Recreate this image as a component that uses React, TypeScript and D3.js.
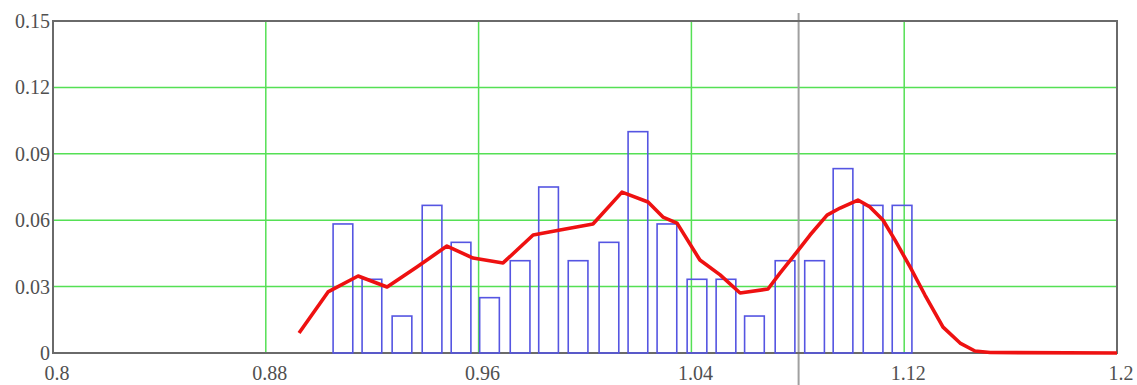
import React from 'react';
import * as d3 from 'd3';

// histogram bins (centre of each bar) and relative frequencies
const binCentres = [
  0.909, 0.9199, 0.9312, 0.9425, 0.9534, 0.9641, 0.9756, 0.9863, 0.9974, 1.009,
  1.0199, 1.0308, 1.0421, 1.053, 1.0637, 1.0752, 1.0863, 1.097, 1.1083, 1.1192,
];
const binFreq = [
  0.0583, 0.0333, 0.0167, 0.0667, 0.05, 0.025, 0.0417, 0.075, 0.0417, 0.05,
  0.1, 0.0583, 0.0333, 0.0333, 0.0167, 0.0417, 0.0417, 0.0833, 0.0667, 0.0667,
];

// density curve
const curveX = [
  0.8925, 0.9034, 0.9147, 0.9256, 0.9368, 0.9481, 0.9579, 0.9692, 0.9805, 0.9906,
  1.003, 1.0139, 1.0237, 1.0293, 1.0346, 1.0432, 1.0508, 1.0583, 1.0688, 1.0733,
  1.0782, 1.0846, 1.091, 1.0959, 1.1026, 1.1071, 1.112, 1.1165, 1.1222, 1.1278,
  1.1346, 1.141, 1.1466, 1.1523, 1.2,
];
const curveY = [
  0.009, 0.0276, 0.0348, 0.0298, 0.0389, 0.0483, 0.0429, 0.0407, 0.0533, 0.0556,
  0.0583, 0.0727, 0.0682, 0.0614, 0.0587, 0.042, 0.0353, 0.0271, 0.0289, 0.0361,
  0.0434, 0.0533, 0.0623, 0.0655, 0.0691, 0.066, 0.0601, 0.0511, 0.0389, 0.0262,
  0.0117, 0.0045, 0.0009, 0.0002, 0,
];

const xTicks = [0.8, 0.88, 0.96, 1.04, 1.12, 1.2];
const yTicks = [0, 0.03, 0.06, 0.09, 0.12, 0.15];
const markerX = 1.0803;
const barWidth = 0.0074;

const W = 1137;
const H = 385;
const margin = { top: 21, right: 20, bottom: 32, left: 53 };

export default function App() {
  const x = d3.scaleLinear().domain([0.8, 1.2]).range([margin.left, W - margin.right]);
  const y = d3.scaleLinear().domain([0, 0.15]).range([H - margin.bottom, margin.top]);

  const line = d3.line<number>()
    .x((d, i) => x(curveX[i]))
    .y(d => y(d));

  const fmtY = (v: number) => (v === 0 ? '0' : d3.format('.2f')(v));
  const fmtX = (v: number) => String(+v.toFixed(2));

  const [x0, x1] = x.range();
  const [y0, y1] = y.range();
  const font = '"Liberation Serif", "Times New Roman", serif';

  return (
    <svg width={W} height={H} style={{ position: 'absolute', left: 0, top: 0, background: '#fff' }}>
      {/* green grid */}
      <g stroke="#55e055" strokeWidth={1.5}>
        {xTicks.slice(1, -1).map(t => (
          <line key={'gx' + t} x1={x(t)} x2={x(t)} y1={y1} y2={y0} />
        ))}
        {yTicks.slice(1, -1).map(t => (
          <line key={'gy' + t} x1={x0} x2={x1} y1={y(t)} y2={y(t)} />
        ))}
      </g>

      {/* marker line */}
      <line x1={x(markerX)} x2={x(markerX)} y1={13} y2={H} stroke="#a0a0a0" strokeWidth={2} />

      {/* frame */}
      <rect x={x0} y={y1} width={x1 - x0} height={y0 - y1} fill="none" stroke="#6a6a6a" strokeWidth={2} />

      {/* bars */}
      <g fill="none" stroke="#5555e2" strokeWidth={1.6}>
        {binCentres.map((c, i) => (
          <rect
            key={i}
            x={x(c - barWidth / 2)}
            y={y(binFreq[i])}
            width={x(c + barWidth / 2) - x(c - barWidth / 2)}
            height={y(0) - y(binFreq[i])}
          />
        ))}
      </g>

      {/* density curve */}
      <path d={line(curveY) || ''} fill="none" stroke="#ee1111" strokeWidth={3.6} strokeLinejoin="round" />

      {/* y labels */}
      <g fontFamily={font} fontSize={20} fill="#505050" textAnchor="end">
        {yTicks.map(t => (
          <text key={'ly' + t} x={x0 - 3} y={y(t) + 7}>{fmtY(t)}</text>
        ))}
      </g>

      {/* x labels */}
      <g fontFamily={font} fontSize={20} fill="#505050" textAnchor="middle">
        {xTicks.map(t => (
          <text key={'lx' + t} x={x(t) + 4} y={H - 5}>{fmtX(t)}</text>
        ))}
      </g>
    </svg>
  );
}
